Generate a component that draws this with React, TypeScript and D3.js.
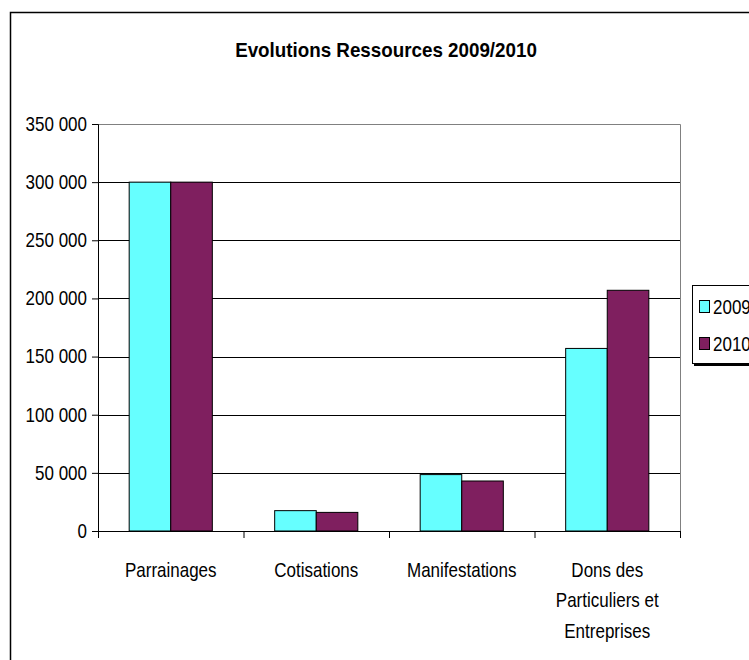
import { useEffect, useRef } from "react";
import { select, scaleLinear, scaleBand, axisLeft, range } from "d3";

const categories = [
  ["Parrainages"],
  ["Cotisations"],
  ["Manifestations"],
  ["Dons des", "Particuliers et", "Entreprises"],
];
const seriesNames = ["2009", "2010"];
const values2009 = [300000, 17500, 48500, 157000];
const values2010 = [300000, 16000, 43000, 207000];
const yTicks = [0, 50000, 100000, 150000, 200000, 250000, 300000, 350000];
const colors = ["#66ffff", "#7f1f5f"];

const W = 749;
const H = 660;
const FONT = "'Liberation Sans', Arial, sans-serif";
const SQ = 0.85; // horizontal squeeze, the original font is narrow

export default function App() {
  const ref = useRef<SVGSVGElement | null>(null);

  useEffect(() => {
    if (!ref.current) return;
    const svg = select(ref.current);
    svg.selectAll("*").remove();

    const left = 98;
    const right = 680;
    const top = 124;
    const bottom = 531;

    // outer frame (runs off the right and bottom edges)
    svg
      .append("rect")
      .attr("x", 10.5)
      .attr("y", 12.5)
      .attr("width", W + 20)
      .attr("height", H + 20)
      .attr("fill", "#fff")
      .attr("stroke", "#000")
      .attr("stroke-width", 1.5);

    svg
      .append("g")
      .attr("transform", `translate(386,57) scale(0.94,1)`)
      .append("text")
      .attr("text-anchor", "middle")
      .attr("font-family", FONT)
      .attr("font-weight", "bold")
      .attr("font-size", 20)
      .text("Evolutions Ressources 2009/2010");

    const y = scaleLinear().domain([0, 350000]).range([bottom, top]);
    const x = scaleBand<number>()
      .domain(range(categories.length))
      .range([left, right]);
    const inner = scaleBand<string>()
      .domain(seriesNames)
      .range([0, x.bandwidth()])
      .paddingInner(0)
      .paddingOuter(0.75);

    // gridlines
    svg
      .append("g")
      .selectAll("line")
      .data(yTicks.filter((t) => t > 0 && t < 350000))
      .join("line")
      .attr("x1", left)
      .attr("x2", right)
      .attr("y1", (d) => Math.round(y(d)) + 0.5)
      .attr("y2", (d) => Math.round(y(d)) + 0.5)
      .attr("stroke", "#000")
      .attr("stroke-width", 1);

    // plot frame top + right
    svg
      .append("path")
      .attr(
        "d",
        `M${left},${Math.round(y(350000)) + 0.5}H${right + 0.5}V${bottom}`
      )
      .attr("fill", "none")
      .attr("stroke", "#808080")
      .attr("stroke-width", 1);

    // bars
    const data = [values2009, values2010];
    const g = svg.append("g");
    data.forEach((vals, si) => {
      g.append("g")
        .selectAll("rect")
        .data(vals)
        .join("rect")
        .attr("x", (_, i) => (x(i) ?? 0) + (inner(seriesNames[si]) ?? 0))
        .attr("y", (d) => y(d))
        .attr("width", inner.bandwidth())
        .attr("height", (d) => bottom - y(d))
        .attr("fill", colors[si])
        .attr("stroke", "#000")
        .attr("stroke-width", 1);
    });

    // y axis
    const yAxis = axisLeft(y)
      .tickValues(yTicks)
      .tickSize(6)
      .tickPadding(0)
      .tickFormat((d) =>
        (+d).toLocaleString("fr-FR").replace(/[\u202f\u00a0]/g, " ")
      );
    const gy = svg
      .append("g")
      .attr("transform", `translate(${left},0)`)
      .call(yAxis);
    gy.select(".domain").attr("stroke", "#000");
    gy.selectAll(".tick line").attr("stroke", "#000");
    gy.selectAll(".tick text")
      .attr("x", 0)
      .attr("transform", `translate(-11,0) scale(${SQ},1)`)
      .attr("font-family", FONT)
      .attr("font-size", 20)
      .attr("fill", "#000");

    // x axis line + ticks at category boundaries
    svg
      .append("line")
      .attr("x1", left)
      .attr("x2", right)
      .attr("y1", bottom + 0.5)
      .attr("y2", bottom + 0.5)
      .attr("stroke", "#000");
    svg
      .append("g")
      .selectAll("line")
      .data(range(categories.length + 1))
      .join("line")
      .attr("x1", (i) => left + i * x.step() + 0.5)
      .attr("x2", (i) => left + i * x.step() + 0.5)
      .attr("y1", bottom)
      .attr("y2", bottom + 7)
      .attr("stroke", "#000");

    // category labels
    const lab = svg.append("g");
    categories.forEach((lines, i) => {
      const cx = (x(i) ?? 0) + x.bandwidth() / 2;
      const t = lab
        .append("g")
        .attr("transform", `translate(${cx},0) scale(${SQ},1)`)
        .append("text")
        .attr("text-anchor", "middle")
        .attr("font-family", FONT)
        .attr("font-size", 20)
        .attr("fill", "#000");
      lines.forEach((ln, li) => {
        t.append("tspan")
          .attr("x", 0)
          .attr("y", 577 + li * 30.5)
          .text(ln);
      });
    });

    // legend
    const lg = svg.append("g");
    lg.append("rect")
      .attr("x", 694)
      .attr("y", 287)
      .attr("width", 80)
      .attr("height", 79)
      .attr("fill", "#000");
    lg.append("rect")
      .attr("x", 692.5)
      .attr("y", 285.5)
      .attr("width", 80)
      .attr("height", 78)
      .attr("fill", "#fff")
      .attr("stroke", "#000");
    seriesNames.forEach((s, i) => {
      const cy = 307 + i * 37;
      lg.append("rect")
        .attr("x", 699.5)
        .attr("y", cy - 6.5)
        .attr("width", 10)
        .attr("height", 12)
        .attr("fill", colors[i])
        .attr("stroke", "#000");
      lg.append("g")
        .attr("transform", `translate(713,${cy + 7}) scale(${SQ},1)`)
        .append("text")
        .attr("font-family", FONT)
        .attr("font-size", 20)
        .attr("fill", "#000")
        .text(s);
    });
  }, []);

  return (
    <svg
      ref={ref}
      width={W}
      height={H}
      style={{ position: "absolute", left: 0, top: 0, display: "block" }}
    />
  );
}
